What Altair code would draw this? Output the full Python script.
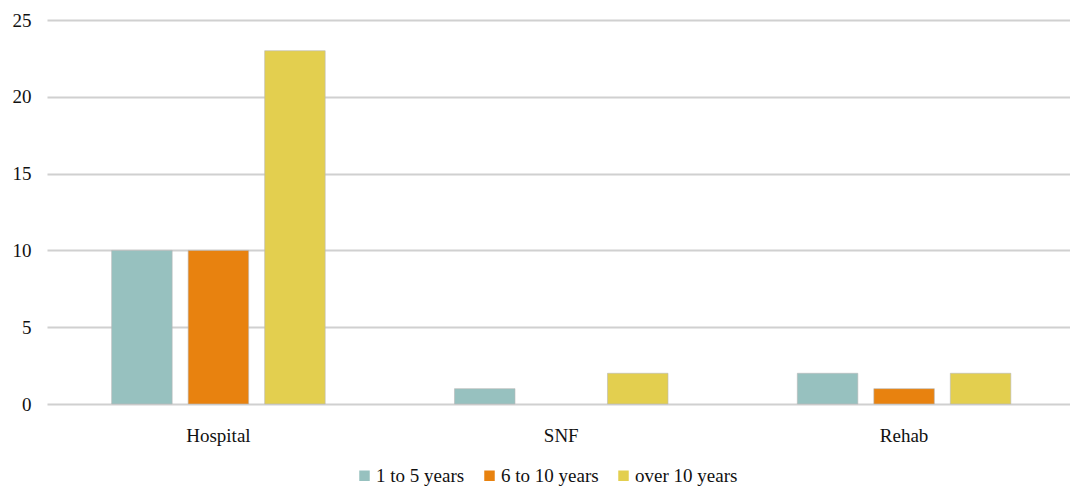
import altair as alt
import pandas as pd

categories = ["Hospital", "SNF", "Rehab"]
series = ["1 to 5 years", "6 to 10 years", "over 10 years"]
values_1_5 = [10, 1, 2]
values_6_10 = [10, 0, 1]
values_over_10 = [23, 2, 2]
colors = ["#97C1BF", "#E8820F", "#E3CF4F"]

rows = []
for i, c in enumerate(categories):
    for s, vals in zip(series, [values_1_5, values_6_10, values_over_10]):
        rows.append({"category": c, "series": s, "value": vals[i]})
df = pd.DataFrame(rows)

FONT = "Liberation Serif"

chart = alt.Chart(df).transform_filter("datum.value > 0").mark_bar(
    stroke="#b8b8b8", strokeWidth=0.6
).encode(
    x=alt.X("category:N", sort=categories, title=None,
            scale=alt.Scale(domain=categories, paddingInner=0, paddingOuter=0,
                            range=[0, 1028.5]),
            axis=alt.Axis(labelAngle=0, labelFont=FONT, labelFontSize=19,
                          labelColor="#111111", labelPadding=22, ticks=False,
                          domain=False, grid=False)),
    xOffset=alt.XOffset("series:N", sort=series,
                        scale=alt.Scale(domain=series, paddingInner=0.209,
                                        paddingOuter=0.845)),
    y=alt.Y("value:Q", title=None,
            scale=alt.Scale(domain=[0, 25]),
            axis=alt.Axis(values=[0, 5, 10, 15, 20, 25], labelFont=FONT,
                          labelFontSize=19, labelColor="#111111", labelPadding=16,
                          ticks=False, domain=False, gridColor="#d0d0d0",
                          gridWidth=2)),
    color=alt.Color("series:N", sort=series, title=None,
                    scale=alt.Scale(domain=series, range=colors),
                    legend=alt.Legend(orient="none", direction="horizontal",
                                      legendX=308, legendY=446,
                                      labelFont=FONT, labelFontSize=19,
                                      labelColor="#111111", symbolType="square",
                                      symbolSize=110, symbolStrokeWidth=0,
                                      columnPadding=15, labelOffset=2)),
).properties(
    width=1021, height=384,
    padding={"left": 47, "top": 20, "right": 2, "bottom": 86},
    autosize=alt.AutoSizeParams(type="none"),
).configure_view(stroke=None)

chart.save("out.html", embed_options={"renderer": "svg", "actions": False})
